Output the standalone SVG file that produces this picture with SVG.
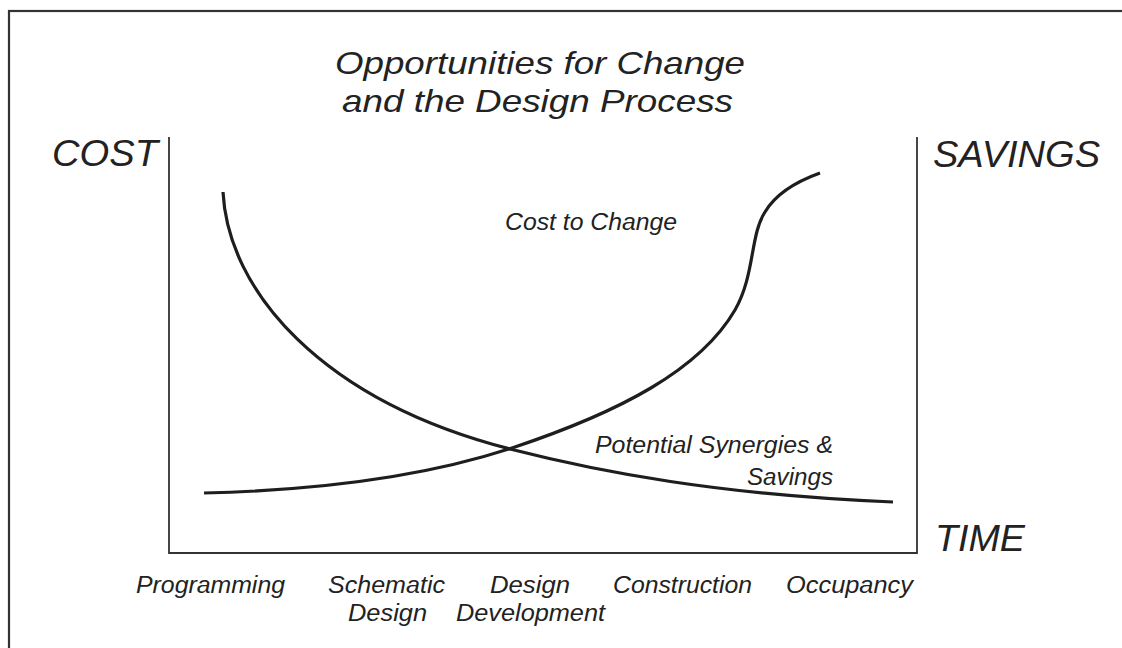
<svg xmlns="http://www.w3.org/2000/svg" width="1122" height="648" viewBox="0 0 1122 648">
<style>
text{font-family:"Liberation Sans",Arial,sans-serif;font-style:italic;fill:#222}
.t{font-size:32px}
.ax{font-size:37px}
.lb{font-size:23.5px}
.curve{fill:none;stroke:#1e1e1e;stroke-width:3.2;stroke-linecap:butt}
.axis{fill:none;stroke:#333;stroke-width:1.8}
</style>
<rect x="0" y="0" width="1122" height="648" fill="#fff"/>
<rect id="frame" x="9" y="11" width="1130" height="650" fill="none" stroke="#333" stroke-width="2.2"/>
<g id="title">
<text class="t" x="335" y="74" textLength="410" lengthAdjust="spacingAndGlyphs">Opportunities for Change</text>
<text class="t" x="342" y="112" textLength="391" lengthAdjust="spacingAndGlyphs">and the Design Process</text>
</g>
<g id="axes">
<path class="axis" d="M169,137 V553 H917 V137"/>
<text class="ax" x="52" y="166" textLength="106" lengthAdjust="spacingAndGlyphs">COST</text>
<text class="ax" x="933" y="167" textLength="167" lengthAdjust="spacingAndGlyphs">SAVINGS</text>
<text class="ax" x="935" y="551" textLength="90" lengthAdjust="spacingAndGlyphs">TIME</text>
</g>
<g id="connectors">
<path id="curve-falling" class="curve" d="M223,192 C228,290 320,400 510,449 C600,472 720,495 893,502"/>
<path id="curve-rising" class="curve" d="M204,493 C330,490 430,475 512,448 C620,412 700,370 735,310 C755,275 750,235 765,212 C775,195 795,182 820,173"/>
</g>
<g id="label-cost-to-change">
<text class="lb" x="505" y="230" textLength="172" lengthAdjust="spacingAndGlyphs">Cost to Change</text>
</g>
<g id="label-synergies">
<text class="lb" x="595" y="453" textLength="238" lengthAdjust="spacingAndGlyphs">Potential Synergies &amp;</text>
<text class="lb" x="747" y="485" textLength="86" lengthAdjust="spacingAndGlyphs">Savings</text>
</g>
<g id="phases">
<text class="lb" x="136" y="593" textLength="149" lengthAdjust="spacingAndGlyphs">Programming</text>
<text class="lb" x="328" y="593" textLength="117" lengthAdjust="spacingAndGlyphs">Schematic</text>
<text class="lb" x="348" y="621" textLength="79" lengthAdjust="spacingAndGlyphs">Design</text>
<text class="lb" x="490" y="593" textLength="80" lengthAdjust="spacingAndGlyphs">Design</text>
<text class="lb" x="456" y="621" textLength="149" lengthAdjust="spacingAndGlyphs">Development</text>
<text class="lb" x="613" y="593" textLength="139" lengthAdjust="spacingAndGlyphs">Construction</text>
<text class="lb" x="786" y="593" textLength="127" lengthAdjust="spacingAndGlyphs">Occupancy</text>
</g>
</svg>
